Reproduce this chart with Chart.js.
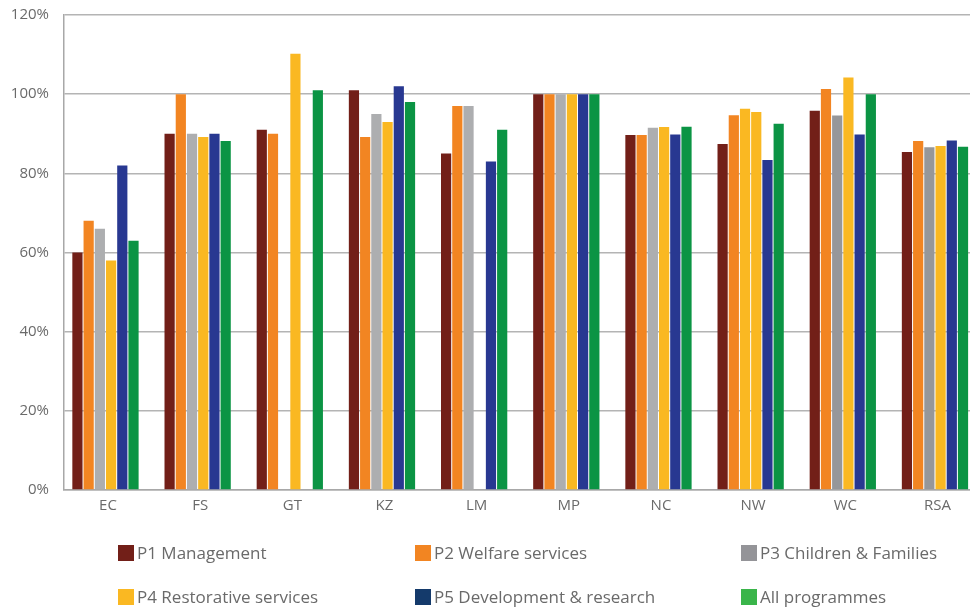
<!DOCTYPE html>
<html>
<head>
<meta charset="utf-8">
<script src="https://cdn.jsdelivr.net/npm/chart.js@4/dist/chart.umd.min.js"></script>
<style>
  html, body { margin: 0; padding: 0; background: #fff; }
  #wrap { position: relative; width: 970px; height: 611px; }
  canvas { position: absolute; left: 0; top: 0; }
  .lg { position: absolute; font-family: "Open Sans", sans-serif; font-size: 17px; color: #6a6a6a; white-space: nowrap; line-height: 20px; }
  .lg span.box { position: absolute; left: 0; top: 2px; width: 16px; height: 16px; }
  .lg span.txt { position: absolute; left: 19px; top: 0; }
</style>
</head>
<body>
<div id="wrap">
  <canvas id="c" width="970" height="611"></canvas>
  <div id="legend"></div>
</div>
<script>
const categories = ["EC", "FS", "GT", "KZ", "LM", "MP", "NC", "NW", "WC", "RSA"];
const p1Management = [60, 90, 91, 101, 85, 100, 89.7, 87.4, 95.8, 85.4];
const p2Welfare = [68, 100, 90, 89.2, 97, 100, 89.7, 94.7, 101.3, 88.2];
const p3Children = [66, 90, null, 95, 97, 100, 91.5, 96.3, 94.6, 86.6];
const p4Restorative = [58, 89.2, 110.2, 93, null, 100, 91.7, 95.5, 104.2, 86.9];
const p5Development = [82, 90, null, 102, 83, 100, 89.8, 83.4, 89.8, 88.3];
const allProgrammes = [63, 88.2, 101, 98, 91, 100, 91.8, 92.5, 100, 86.7];
const seriesNames = ["P1 Management", "P2 Welfare services", "P3 Children & Families",
                     "P4 Restorative services", "P5 Development & research", "All programmes"];
const yTicks = [0, 20, 40, 60, 80, 100, 120];

const colors = ["#721f18", "#f28522", "#adaeb0", "#fab822", "#283891", "#0b9444"];
const p3Colors = ["#adaeb0", "#adaeb0", "#adaeb0", "#adaeb0", "#adaeb0", "#adaeb0", "#adaeb0", "#fab822", "#96979a", "#96979a"];
const legendColors = ["#721f18", "#f28522", "#949498", "#fab822", "#143a6b", "#3ab54a"];

const values = [p1Management, p2Welfare, p3Children, p4Restorative, p5Development, allProgrammes];
const datasets = values.map((v, i) => ({
  label: seriesNames[i],
  data: v.map((y, k) => ({ x: k, y: y })),
  backgroundColor: i === 2 ? p3Colors : colors[i],
  borderWidth: 0,
  barPercentage: 0.91,
  categoryPercentage: 0.73
}));

new Chart(document.getElementById("c"), {
  type: "bar",
  data: { datasets },
  options: {
    responsive: false,
    animation: false,
    layout: { padding: { top: 15, right: 0, left: 0, bottom: 0 } },
    plugins: { legend: { display: false }, tooltip: { enabled: false } },
    scales: {
      x: {
        type: "linear",
        offset: false,
        min: -0.45, max: 9.38,
        afterBuildTicks: s => { s.ticks = categories.map((c, k) => ({ value: k })); },
        grid: { display: false, drawTicks: false },
        border: { display: true, color: "#a8a8a8", width: 1.5 },
        ticks: { color: "#6a6a6a", padding: 7, labelOffset: 2.5, autoSkip: false, maxRotation: 0,
                 font: { family: "Open Sans", size: 15 },
                 callback: v => categories[Math.round(v)] },
        afterFit: s => { s.height = 121; s.paddingLeft = 0; s.paddingRight = 0; s.paddingTop = 0; s.paddingBottom = 0; }
      },
      y: {
        min: 0, max: 120,
        afterBuildTicks: s => { s.ticks = yTicks.map(v => ({ value: v })); },
        grid: { color: "#b4b4b4", lineWidth: 1.5, drawTicks: false },
        border: { display: true, color: "#a8a8a8", width: 1.5 },
        ticks: { color: "#6a6a6a", padding: 15, font: { family: "Open Sans", size: 15 }, callback: v => v + "%" },
        afterFit: s => { s.width = 64; s.paddingTop = 0; s.paddingBottom = 0; s.paddingLeft = 0; s.paddingRight = 0; }
      }
    }
  }
});

const legendPos = [[118, 543], [415, 543], [741, 543], [118, 587], [415, 587], [741, 587]];
const lg = document.getElementById("legend");
seriesNames.forEach((n, i) => {
  const d = document.createElement("div");
  d.className = "lg";
  d.style.left = legendPos[i][0] + "px";
  d.style.top = legendPos[i][1] + "px";
  const b = document.createElement("span");
  b.className = "box";
  b.style.background = legendColors[i];
  const t = document.createElement("span");
  t.className = "txt";
  t.textContent = n;
  d.appendChild(b); d.appendChild(t);
  lg.appendChild(d);
});
</script>
</body>
</html>
